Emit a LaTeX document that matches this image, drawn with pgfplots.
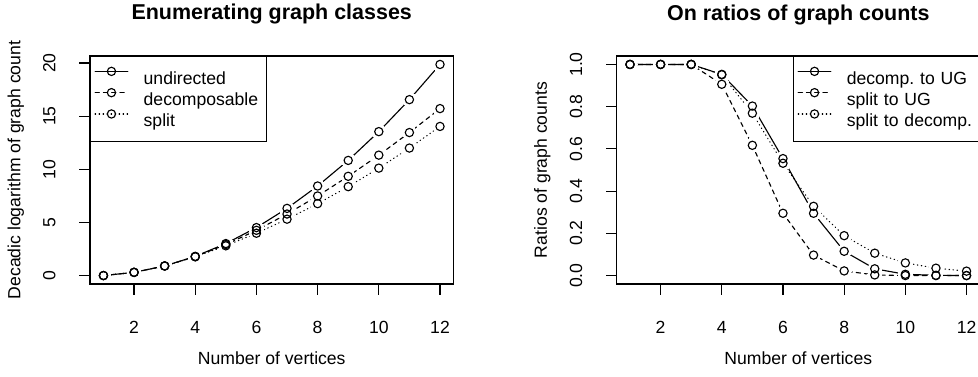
\documentclass[border=0pt]{standalone}
\usepackage{fontspec}
\setmainfont{Liberation Sans}
\usepackage{pgfplots}
\usepackage{pgfplotstable}
\pgfplotsset{compat=1.18}
\frenchspacing

\pgfplotstableread{
n und dec spl
1 0 0 0
2 0.301 0.301 0.301
3 0.903 0.903 0.903
4 1.806 1.785 1.763
5 3.010 2.915 2.801
6 4.515 4.259 3.985
7 6.322 5.791 5.306
8 8.429 7.490 6.767
9 10.837 9.341 8.368
10 13.546 11.333 10.111
11 16.556 13.459 12.000
12 19.868 15.713 14.034
}\counts

\pgfplotstableread{
n decug splug spldec
1 1 1 1
2 1 1 1
3 1 1 1
4 0.953 0.906 0.951
5 0.803 0.617 0.769
6 0.554 0.295 0.532
7 0.295 0.097 0.328
8 0.115 0.022 0.189
9 0.032 0.003 0.106
10 0.006 0.000 0.060
11 0.001 0.000 0.035
12 0.000 0.000 0.021
}\ratios

\newcommand{\nfont}{\fontsize{13.2}{15.8}\selectfont}
\newcommand{\tfont}{\fontsize{16.1}{19}\selectfont\bfseries}

\pgfplotsset{
  rstyle/.style={
    scale only axis, width=272.6pt, height=171pt,
    xmin=0.56, xmax=12.44,
    xtick={2,4,6,8,10,12},
    axis line style={line width=0.85pt},
    tick style={line width=0.85pt, black},
    tick align=outside, major tick length=7.9pt,
    tick pos=left,
    font=\nfont,
    tick label style={font=\nfont},
    /pgf/number format/assume math mode=true,
    xticklabel style={anchor=base, yshift=-29.5pt},
    yticklabel style={xshift=-18pt, rotate=90, anchor=base},
    every axis title shift=0pt,
    title style={at={(axis description cs:0.5,1.1579)}, anchor=base, font=\tfont},
    xlabel style={at={(axis description cs:0.5,-0.3509)}, anchor=base, font=\nfont},
    ylabel style={at={(axis description cs:-0.1919,0.5)}, anchor=base, rotate=0, font=\nfont},
    legend image code/.code={\draw[mark repeat=2,mark phase=2,#1] plot coordinates {(0pt,5pt) (12.25pt,5pt) (24.5pt,5pt)};},
    legend style={draw=black, line width=0.85pt, font=\nfont,
      inner xsep=3pt, inner ysep=8pt, row sep=0pt, column sep=11.5pt,
      nodes={inner sep=0pt, text height=12.5pt, text depth=3.25pt, align=left}},
    legend cell align=left,
  },
  sline/.style={forget plot, black, line width=0.85pt, line cap=round, no markers},
  gapd/.style={forget plot, white, only marks, mark=*, mark size=5.25pt, mark options={draw=white, fill=white, line width=0pt}},
  circ/.style={forget plot, only marks, mark=o, mark size=3.1pt, black, mark options={solid, line width=0.85pt}},
  dsh/.style={dash pattern=on 3.2pt off 3pt},
  dtt/.style={dash pattern=on 0.4pt off 2.6pt},
}

\begin{document}
\begin{tikzpicture}
\useasboundingbox (0,0) rectangle (733.5pt,282pt);

\begin{axis}[rstyle, at={(67.5pt,69pt)}, anchor=south west,
  ymin=-0.7947, ymax=20.6627, ytick={0,5,10,15,20},
  title={Enumerating graph classes},
  xlabel={Number of vertices},
  ylabel={Decadic logarithm of graph count},
  legend style={at={(0,1)}, anchor=north west, nodes={text width=89.25pt}}]
\addplot[sline] table[x=n,y=und] {\counts};
\addplot[gapd] table[x=n,y=und] {\counts};
\addplot[sline, dsh] table[x=n,y=dec] {\counts};
\addplot[gapd] table[x=n,y=dec] {\counts};
\addplot[sline, dtt] table[x=n,y=spl] {\counts};
\addplot[gapd] table[x=n,y=spl] {\counts};
\addplot[circ] table[x=n,y=und] {\counts};
\addplot[circ] table[x=n,y=dec] {\counts};
\addplot[circ] table[x=n,y=spl] {\counts};
\addlegendimage{black, line width=0.85pt, line cap=round, mark=o, mark size=3.1pt, mark options={solid}}
\addlegendentry{undirected}
\addlegendimage{black, line width=0.85pt, line cap=round, dsh, mark=o, mark size=3.1pt, mark options={solid}}
\addlegendentry{decomposable}
\addlegendimage{black, line width=0.85pt, line cap=round, dtt, mark=o, mark size=3.1pt, mark options={solid}}
\addlegendentry{split}
\end{axis}

\begin{axis}[rstyle, at={(462.4pt,69pt)}, anchor=south west,
  ymin=-0.04, ymax=1.04, ytick={0,0.2,0.4,0.6,0.8,1},
  yticklabel style={/pgf/number format/fixed, /pgf/number format/fixed zerofill, /pgf/number format/precision=1},
  title={On ratios of graph counts},
  xlabel={Number of vertices},
  ylabel={Ratios of graph counts},
  legend style={at={(1,1)}, anchor=north east, nodes={text width=96.5pt}}]
\addplot[sline] table[x=n,y=decug] {\ratios};
\addplot[gapd] table[x=n,y=decug] {\ratios};
\addplot[sline, dsh] table[x=n,y=splug] {\ratios};
\addplot[gapd] table[x=n,y=splug] {\ratios};
\addplot[sline, dtt] table[x=n,y=spldec] {\ratios};
\addplot[gapd] table[x=n,y=spldec] {\ratios};
\addplot[circ] table[x=n,y=decug] {\ratios};
\addplot[circ] table[x=n,y=splug] {\ratios};
\addplot[circ] table[x=n,y=spldec] {\ratios};
\addlegendimage{black, line width=0.85pt, line cap=round, mark=o, mark size=3.1pt, mark options={solid}}
\addlegendentry{decomp. to UG}
\addlegendimage{black, line width=0.85pt, line cap=round, dsh, mark=o, mark size=3.1pt, mark options={solid}}
\addlegendentry{split to UG}
\addlegendimage{black, line width=0.85pt, line cap=round, dtt, mark=o, mark size=3.1pt, mark options={solid}}
\addlegendentry{split to decomp.}
\end{axis}
\end{tikzpicture}
\end{document}
